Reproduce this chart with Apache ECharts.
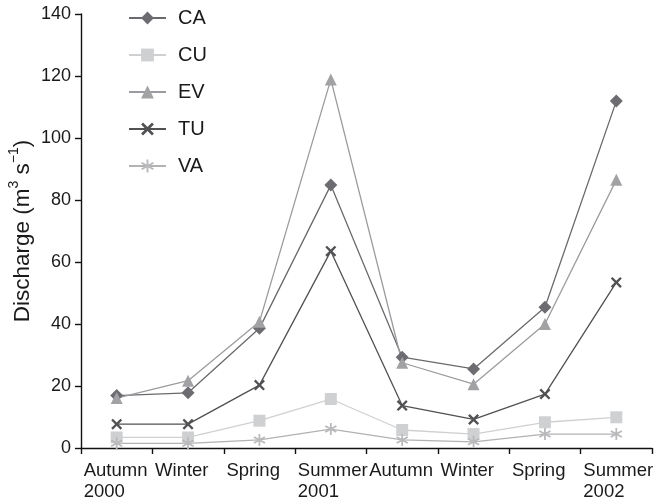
<!DOCTYPE html>
<html><head><meta charset="utf-8">
<script src="https://cdn.jsdelivr.net/npm/echarts@6/dist/echarts.min.js"></script>
<style>html,body{margin:0;padding:0;background:#fff}#c{width:656px;height:503px}</style>
</head><body><div id="c"></div>
<script>
const categories = ['Autumn\n2000','Winter','Spring','Summer\n2001','Autumn','Winter','Spring','Summer\n2002'];
const seriesNames = ['CA','CU','EV','TU','VA'];
const CA = [16.9, 17.8, 38.6, 84.8, 29.3, 25.5, 45.4, 111.9];
const CU = [3.4, 3.4, 8.8, 15.8, 5.8, 4.5, 8.3, 9.9];
const EV = [16.1, 21.7, 40.7, 118.9, 27.5, 20.6, 40.0, 86.5];
const TU = [7.7, 7.7, 20.3, 63.5, 13.7, 9.2, 17.4, 53.4];
const VA = [1.5, 1.5, 2.6, 6.1, 2.6, 2.0, 4.5, 4.5];
const yTicks = [0, 20, 40, 60, 80, 100, 120, 140];

const crossPath = 'path://M0,1.5 L1.5,0 L5,3.5 L8.5,0 L10,1.5 L6.5,5 L10,8.5 L8.5,10 L5,6.5 L1.5,10 L0,8.5 L3.5,5 Z';
const starPath = 'path://M-0.7,-5 L0.7,-5 L0.7,5 L-0.7,5 Z M3.98,-3.106 L4.68,-1.894 L-3.98,3.106 L-4.68,1.894 Z M-4.68,-1.894 L-3.98,-3.106 L4.68,1.894 L3.98,3.106 Z';

const styles = {
  CA: {data: CA, color: '#6d6d71', line: '#6a6a6e', symbol: 'diamond', size: 13},
  CU: {data: CU, color: '#cfd0d2', line: '#cfd0d2', symbol: 'rect', size: 12},
  EV: {data: EV, color: '#a2a2a5', line: '#9c9ca0', symbol: 'triangle', size: 12},
  TU: {data: TU, color: '#515154', line: '#515154', symbol: crossPath, size: 11},
  VA: {data: VA, color: '#b9b9bc', line: '#b2b2b5', symbol: starPath, size: 12}
};

const FONT = 'Liberation Sans';
const chart = echarts.init(document.getElementById('c'));
const labelRich = { a: { width: 66, align: 'left', fontSize: 18.5, color: '#1a1a1a', fontFamily: FONT, lineHeight: 21 } };
chart.setOption({
  animation: false,
  textStyle: { fontFamily: FONT },
  grid: { left: 81, right: 4, top: 14, bottom: 55, containLabel: false, outerBoundsMode: 'none' },
  legend: {
    orient: 'vertical', left: 128, top: 8, padding: 0, itemWidth: 37, itemHeight: 16, itemGap: 17,
    textStyle: { fontSize: 20, lineHeight: 16, color: '#1a1a1a', fontFamily: FONT, padding: [0, 0, 0, 7] },
    data: seriesNames
  },
  xAxis: {
    type: 'category', data: categories, boundaryGap: true,
    axisLine: { lineStyle: { color: '#111', width: 1.4 } },
    axisTick: { show: true, length: 6, inside: false, lineStyle: { color: '#111', width: 1.4 } },
    axisLabel: {
      interval: 0, margin: 12,
      formatter: v => v.split('\n').map(s => '{a|' + s + '}').join('\n'),
      rich: labelRich
    }
  },
  yAxis: {
    type: 'value', min: yTicks[0], max: yTicks[yTicks.length - 1], interval: 20,
    name: '{b|Discharge (m}{s|3}{b| s}{s|−1}{b|)}', nameLocation: 'middle', nameGap: 47,
    nameMoveOverlap: false,
    nameTextStyle: {
      fontSize: 22.5, color: '#1a1a1a', fontFamily: FONT,
      rich: {
        b: { fontSize: 22.5, color: '#1a1a1a', fontFamily: FONT, lineHeight: 27, verticalAlign: 'bottom' },
        s: { fontSize: 14, color: '#1a1a1a', fontFamily: FONT, lineHeight: 27, verticalAlign: 'top' }
      }
    },
    axisLine: { show: true, lineStyle: { color: '#111', width: 1.4 } },
    axisTick: { show: true, length: 6, lineStyle: { color: '#111', width: 1.4 } },
    splitLine: { show: false },
    axisLabel: { fontSize: 18, color: '#1a1a1a', margin: 10 }
  },
  series: seriesNames.map(n => ({
    name: n, type: 'line', data: styles[n].data,
    symbol: styles[n].symbol, symbolSize: styles[n].size, showAllSymbol: true,
    itemStyle: { color: styles[n].color },
    lineStyle: { color: styles[n].line, width: 1.3 },
    z: n === 'CU' || n === 'VA' ? 1 : 2
  }))
});
</script></body></html>
